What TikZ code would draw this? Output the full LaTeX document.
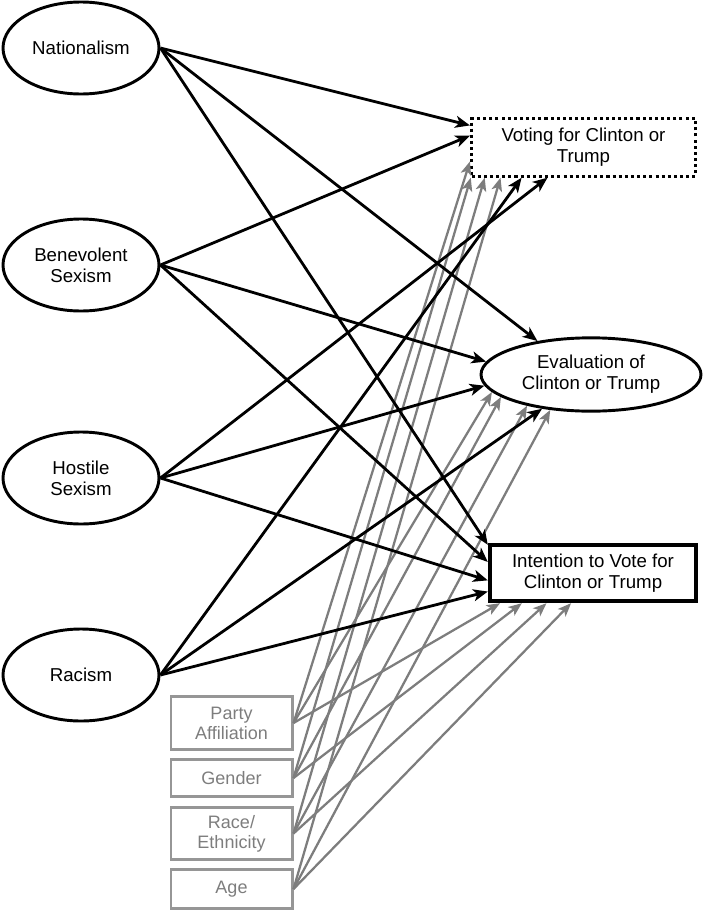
\documentclass[tikz,border=0pt]{standalone}
\usepackage{fontspec}
\setmainfont{Liberation Sans}
\usepackage{xcolor}
\usepackage{tikz}
\usetikzlibrary{shapes.geometric, arrows.meta}

\definecolor{ctrlgray}{RGB}{125,125,125}
\definecolor{boxgray}{RGB}{150,150,150}

\begin{document}
\begin{tikzpicture}[x=0.75pt, y=-0.75pt,
        font=\fontsize{14pt}{15.5pt}\selectfont,
        predictor/.style={draw, ellipse, line width=2.2pt, minimum width=117pt, minimum height=69pt, inner sep=0pt, align=center},
        control/.style={draw=boxgray, line width=2pt, minimum width=91pt, inner sep=0pt, align=center, text=ctrlgray, font=\fontsize{13.5pt}{15pt}\selectfont},
        blackarrow/.style={line width=2.1pt, -{Stealth[length=11pt, width=9pt, inset=3pt]}},
        grayarrow/.style={draw=ctrlgray, line width=1.7pt, -{Stealth[length=10pt, width=8pt, inset=2.5pt]}}]
        \useasboundingbox (0,0) rectangle (705,910);

        % predictors
        \node[predictor] (nat) at (81, 48) {Nationalism};
        \node[predictor] (ben) at (81, 265) {Benevolent\\Sexism};
        \node[predictor] (hos) at (81, 478) {Hostile\\Sexism};
        \node[predictor] (rac) at (81, 675) {Racism};

        % outcomes
        \node[draw, line width=2.3pt, dash pattern=on 2.3pt off 2.3pt, minimum width=168pt, minimum height=43pt, inner sep=0pt, align=center] (vote) at (583.5, 147.5) {Voting for Clinton or\\Trump};
        \node[draw, ellipse, line width=2.2pt, minimum width=165pt, minimum height=55pt, inner sep=0pt, align=center] (eval) at (591, 374.5) {Evaluation of\\Clinton or Trump};
        \node[draw, line width=2.8pt, minimum width=155pt, minimum height=42.5pt, inner sep=0pt, align=center] (int) at (593, 573) {Intention to Vote for\\Clinton or Trump};

        % controls
        \node[control, minimum height=39.5pt] (party) at (231.5, 723) {Party\\Affiliation};
        \node[control, minimum height=27.5pt] (gen) at (231.5, 778) {Gender};
        \node[control, minimum height=39pt] (race) at (231.5, 833.5) {Race/\\Ethnicity};
        \node[control, minimum height=29pt] (age) at (231.5, 889) {Age};

        % control paths
        \draw[grayarrow] (party.east) -- (vote.187);
        \draw[grayarrow] (party.east) -- (eval.190);
        \draw[grayarrow] (party.east) -- (int.198);
        \draw[grayarrow] (gen.east) -- (vote.195);
        \draw[grayarrow] (gen.east) -- (eval.194);
        \draw[grayarrow] (gen.east) -- (int.203);
        \draw[grayarrow] (race.east) -- (vote.197.5);
        \draw[grayarrow] (race.east) -- (eval.206);
        \draw[grayarrow] (race.east) -- (int.213);
        \draw[grayarrow] (age.east) -- (vote.200);
        \draw[grayarrow] (age.east) -- (eval.221);
        \draw[grayarrow] (age.east) -- (int.234);

        % predictor paths
        \draw[blackarrow] (nat.east) -- (vote.169);
        \draw[blackarrow] (nat.east) -- (eval.148);
        \draw[blackarrow] (nat.east) -- (int.165);
        \draw[blackarrow] (ben.east) -- (vote.174);
        \draw[blackarrow] (ben.east) -- (eval.173);
        \draw[blackarrow] (ben.east) -- (int.174);
        \draw[blackarrow] (hos.east) -- (vote.220);
        \draw[blackarrow] (hos.east) -- (eval.186);
        \draw[blackarrow] (hos.east) -- (int.184);
        \draw[blackarrow] (rac.east) -- (vote.206);
        \draw[blackarrow] (rac.east) -- (eval.215);
        \draw[blackarrow] (rac.east) -- (int.190);
\end{tikzpicture}
\end{document}
